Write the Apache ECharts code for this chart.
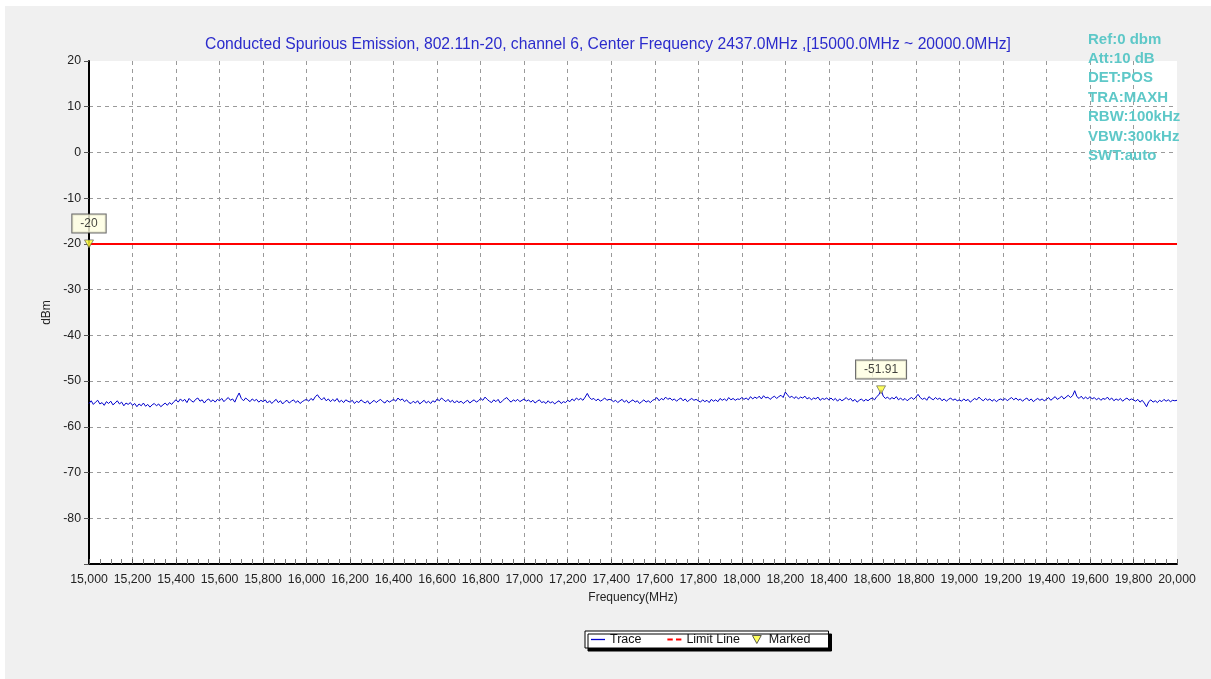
<!DOCTYPE html>
<html>
<head>
<meta charset="utf-8">
<script src="https://cdn.jsdelivr.net/npm/echarts@6/dist/echarts.min.js"></script>
<style>
html,body{margin:0;padding:0;background:#fff;width:1211px;height:679px;overflow:hidden;}
#chart{position:absolute;left:5px;top:6px;width:1206px;height:673px;background:#f0f0f0;}
</style>
</head>
<body>
<div id="chart"></div>
<script>
const chartTitle = 'Conducted Spurious Emission, 802.11n-20, channel 6, Center Frequency 2437.0MHz ,[15000.0MHz ~ 20000.0MHz]';
const traceStartMHz = 15000;
const traceStepMHz = 10;
const traceDbm = [
  -54.9,-54.3,-55.1,-54.6,-54.2,-55.0,-54.7,-55.3,-54.5,-54.9,-54.4,-55.2,-54.8,-54.3,-55.0,-54.6,-55.4,-54.8,-55.1,-54.7,
  -55.3,-54.9,-55.6,-55.0,-55.4,-54.8,-55.5,-55.1,-55.7,-55.2,-54.9,-55.4,-55.0,-55.6,-55.2,-54.8,-55.3,-54.7,-55.1,-54.5,
  -54.1,-54.6,-53.9,-54.4,-54.0,-54.7,-53.8,-54.3,-54.6,-54.0,-53.7,-54.4,-54.1,-54.8,-54.2,-53.9,-54.5,-54.1,-54.6,-54.0,
  -54.3,-53.8,-54.5,-54.0,-53.6,-54.2,-53.9,-54.6,-53.5,-52.6,-53.8,-54.3,-53.7,-54.1,-54.5,-53.9,-54.3,-54.0,-54.6,-54.2,
  -54.5,-54.1,-54.8,-54.3,-54.9,-54.4,-54.0,-54.7,-54.3,-55.0,-54.5,-54.2,-54.8,-54.4,-54.1,-54.7,-54.3,-54.9,-54.5,-54.2,
  -54.0,-54.4,-53.8,-54.2,-53.4,-53.0,-53.7,-54.1,-53.6,-54.3,-53.9,-54.5,-54.0,-54.4,-53.8,-54.6,-54.2,-54.7,-54.1,-54.4,
  -54.6,-54.2,-54.9,-54.4,-54.7,-54.1,-54.5,-54.8,-54.3,-55.0,-54.6,-54.2,-54.7,-54.3,-54.0,-54.5,-54.8,-54.2,-54.6,-54.3,
  -54.0,-54.4,-53.7,-54.2,-53.9,-54.5,-54.1,-54.7,-54.9,-54.4,-54.8,-54.3,-55.0,-54.6,-54.2,-54.8,-54.4,-54.9,-54.3,-54.6,
  -53.9,-54.3,-53.7,-54.1,-54.5,-54.0,-54.6,-54.2,-54.8,-54.3,-54.7,-54.4,-54.9,-54.5,-54.2,-54.8,-54.4,-54.1,-54.6,-54.3,
  -53.8,-54.2,-53.5,-54.0,-54.4,-54.7,-54.1,-54.5,-54.0,-54.8,-54.3,-53.9,-53.6,-54.2,-54.6,-54.1,-54.4,-54.0,-54.5,-54.2,
  -53.9,-54.4,-54.1,-54.6,-54.2,-54.8,-54.4,-54.1,-54.7,-54.5,-54.9,-54.3,-54.8,-54.5,-55.0,-54.6,-54.3,-54.9,-54.5,-54.7,
  -54.2,-54.5,-53.9,-54.3,-53.7,-54.1,-53.8,-54.2,-53.5,-52.7,-53.6,-54.0,-53.8,-54.3,-53.9,-54.4,-54.1,-53.7,-54.2,-54.0,
  -54.1,-54.5,-54.2,-54.7,-54.3,-54.0,-54.6,-54.2,-54.8,-54.4,-54.1,-54.6,-54.3,-54.9,-54.5,-54.1,-54.6,-54.3,-54.7,-54.2,
  -54.0,-53.6,-54.3,-53.8,-54.1,-53.5,-54.0,-53.7,-54.2,-53.9,-54.4,-54.0,-53.7,-54.3,-53.9,-54.5,-54.1,-53.8,-54.2,-54.0,
  -54.3,-54.6,-54.1,-54.5,-54.2,-54.7,-54.0,-54.4,-54.1,-54.5,-53.8,-54.2,-53.9,-54.3,-53.6,-54.1,-53.8,-54.2,-53.9,-54.0,
  -53.6,-54.0,-53.7,-54.1,-53.4,-53.9,-53.5,-53.8,-53.3,-53.9,-53.2,-53.7,-53.5,-54.0,-53.6,-53.3,-53.8,-53.4,-53.1,-53.6,
  -52.4,-53.0,-53.6,-53.3,-53.8,-53.4,-53.9,-53.5,-53.7,-53.3,-53.9,-53.6,-54.1,-53.7,-53.9,-53.5,-54.2,-53.8,-54.0,-53.7,
  -54.1,-53.7,-54.2,-53.8,-54.4,-53.9,-54.3,-54.0,-53.6,-54.1,-53.8,-54.4,-54.0,-54.6,-54.2,-53.9,-54.4,-54.0,-54.3,-53.9,
  -53.7,-54.1,-53.4,-53.0,-51.91,-53.3,-53.8,-53.5,-54.0,-53.6,-53.9,-53.4,-54.1,-53.7,-54.2,-53.8,-54.3,-53.9,-53.6,-54.0,
  -53.5,-52.9,-53.6,-54.0,-53.7,-54.2,-53.4,-53.8,-54.1,-53.6,-54.0,-53.7,-54.3,-53.9,-54.4,-54.0,-53.7,-54.2,-53.9,-54.3,
  -54.1,-54.4,-53.9,-54.3,-54.0,-54.6,-54.2,-53.8,-54.1,-53.5,-54.0,-54.3,-53.8,-54.2,-53.9,-54.4,-54.0,-54.5,-54.1,-53.9,
  -54.2,-53.8,-54.3,-53.9,-53.6,-54.1,-53.7,-54.2,-53.9,-54.4,-54.0,-53.7,-54.3,-53.9,-54.5,-54.1,-53.8,-54.2,-53.9,-54.3,
  -54.0,-53.6,-54.2,-53.8,-53.4,-54.0,-53.7,-53.3,-53.9,-53.5,-53.1,-53.6,-53.2,-52.1,-53.4,-53.8,-53.3,-53.9,-53.5,-53.9,
  -53.4,-53.9,-53.6,-54.1,-53.7,-54.2,-53.8,-54.0,-53.5,-54.1,-53.7,-54.3,-53.9,-54.2,-53.8,-54.4,-54.0,-53.7,-54.2,-53.9,
  -54.1,-54.4,-54.0,-54.6,-54.2,-54.8,-55.6,-54.5,-54.1,-54.6,-54.3,-54.7,-54.2,-54.5,-54.0,-54.4,-54.1,-54.5,-54.2,-54.3,
  -54.2
];
const limitLineDbm = -20;
const limitLineRange = [15000, 20000];
const markedPoints = [[15000, -20], [18640, -51.91]];
const infoLines = ['Ref:0 dbm', 'Att:10 dB', 'DET:POS', 'TRA:MAXH', 'RBW:100kHz', 'VBW:300kHz', 'SWT:auto'];
const xRange = [15000, 20000, 200];
const yRange = [-90, 20, 10];

const FONT = '"Liberation Sans", Arial, sans-serif';
const traceData = traceDbm.map((v, i) => [traceStartMHz + i * traceStepMHz, v]);
const limitData = limitLineRange.map(f => [f, limitLineDbm]);

const chart = echarts.init(document.getElementById('chart'), null, {renderer: 'canvas'});
const dashed = {color: '#9a9a9a', type: [4, 4], width: 1};

chart.setOption({
  animation: false,
  backgroundColor: '#f0f0f0',
  textStyle: {fontFamily: FONT},
  title: {
    text: chartTitle,
    left: 'center',
    top: 26,
    textStyle: {color: '#2b2bcc', fontSize: 15.7, fontWeight: 'normal', fontFamily: FONT}
  },
  grid: {
    left: 84, top: 55, width: 1088, height: 503,
    show: true, backgroundColor: '#ffffff', borderWidth: 0
  },
  xAxis: {
    type: 'value',
    min: xRange[0], max: xRange[1], interval: xRange[2],
    name: 'Frequency(MHz)', nameLocation: 'middle', nameGap: 28,
    nameTextStyle: {color: '#222', fontSize: 12, fontFamily: FONT},
    axisLine: {show: true, onZero: false, lineStyle: {color: '#000', width: 2}},
    axisTick: {show: true, inside: true, length: 5, lineStyle: {color: '#555'}},
    minorTick: {show: true, splitNumber: 4, length: 5, lineStyle: {color: '#777'}},
    axisLabel: {
      color: '#222', fontSize: 12.3, margin: 10, fontFamily: FONT,
      formatter: v => v.toLocaleString('en-US')
    },
    splitLine: {show: true, lineStyle: dashed, showMinLine: false, showMaxLine: false}
  },
  yAxis: {
    type: 'value',
    min: yRange[0], max: yRange[1], interval: yRange[2],
    name: 'dBm', nameLocation: 'middle', nameGap: 35, nameRotate: 90,
    nameTextStyle: {color: '#222', fontSize: 12, fontFamily: FONT},
    axisLine: {show: true, onZero: false, lineStyle: {color: '#000', width: 2}},
    axisTick: {show: true, inside: false, length: 5, lineStyle: {color: '#555'}},
    axisLabel: {
      color: '#222', fontSize: 12.3, margin: 8, fontFamily: FONT,
      formatter: v => (v === yRange[0] ? '' : String(v))
    },
    splitLine: {show: true, lineStyle: dashed, showMinLine: false, showMaxLine: false}
  },
  legend: {
    left: 580, top: 625,
    backgroundColor: '#fff', borderColor: '#000', borderWidth: 1,
    shadowColor: 'rgba(0,0,0,1)', shadowBlur: 0, shadowOffsetX: 3, shadowOffsetY: 3,
    padding: [2, 18, 2, 6],
    itemGap: 12, itemWidth: 14, itemHeight: 8,
    symbolKeepAspect: true,
    formatter: name => (name === 'Trace' ? name + '\u00a0\u00a0\u00a0\u00a0' : name),
    textStyle: {color: '#111', fontSize: 12.5, fontFamily: FONT},
    data: [
      {name: 'Trace', icon: 'path://M0,0h14v1.3h-14z'},
      {name: 'Limit Line', icon: 'path://M0,0h5v2h-5z M8,0h5v2h-5z'},
      {name: 'Marked', icon: 'path://M0,0L10,0L5,9Z', itemStyle: {color: '#ffff33', borderColor: '#333', borderWidth: 1}}
    ]
  },
  graphic: infoLines.map((t, i) => ({
    type: 'text',
    left: 1083,
    top: 26 + i * 19.4,
    z: 100,
    style: {text: t, fill: '#5ec8c8', font: 'bold 15px ' + FONT}
  })),
  series: [
    {
      name: 'Trace', type: 'line', data: traceData,
      symbol: 'none', showSymbol: false,
      lineStyle: {color: '#0000cc', width: 1}, itemStyle: {color: '#0000cc'},
      z: 3
    },
    {
      name: 'Limit Line', type: 'line', data: limitData,
      symbol: 'none', showSymbol: false,
      lineStyle: {color: '#ff0000', width: 2}, itemStyle: {color: '#ff0000'},
      z: 4
    },
    {
      name: 'Marked', type: 'scatter', data: markedPoints,
      symbol: 'triangle', symbolRotate: 180, symbolSize: [9, 8],
      itemStyle: {color: '#ffff33', borderColor: '#555', borderWidth: 0.8},
      label: {
        show: true, position: 'top', distance: 7,
        formatter: p => String(p.value[1]),
        backgroundColor: '#ffffe1', borderColor: '#444', borderWidth: 1,
        padding: [3, 8], color: '#111', fontSize: 12, fontFamily: FONT
      },
      z: 6
    }
  ]
});
</script>
</body>
</html>
